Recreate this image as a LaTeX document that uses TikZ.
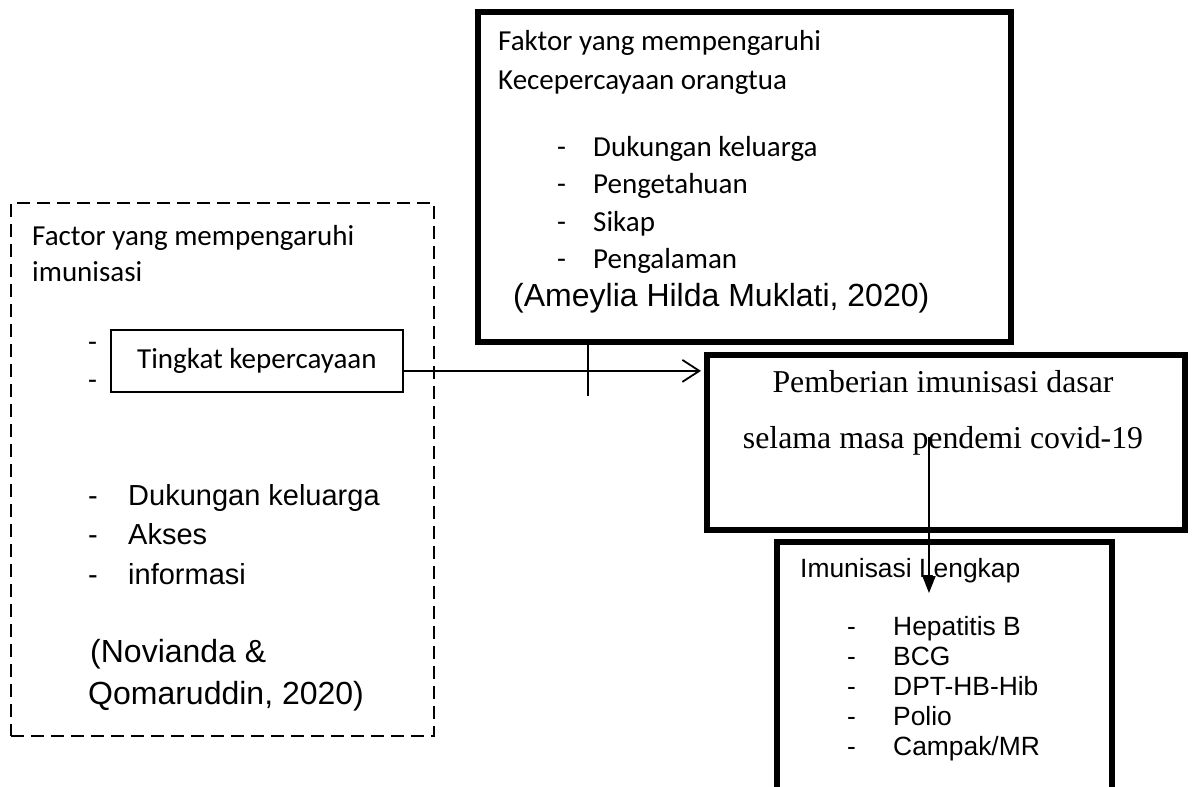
\documentclass[tikz,border=0pt]{standalone}
\usepackage{fontspec}
\setmainfont{Carlito}
\newfontfamily\arialf{Liberation Sans}
\newfontfamily\timesf{Liberation Serif}
\usetikzlibrary{arrows.meta, positioning, calc}
\tikzset{
  kt/.style = {draw=black, line width=6pt, inner sep=0pt, anchor=north west},
  kd/.style = {draw=black, line width=1.8pt, dash pattern=on 13pt off 7pt,
    inner sep=0pt, anchor=north west},
  kb/.style = {draw=black, line width=1.8pt, inner sep=0pt, anchor=north west,
    font=\fontsize{29}{35}\selectfont},
  tx/.style = {inner sep=0pt, anchor=base west, font=\fontsize{29}{35}\selectfont},
  ta/.style = {inner sep=0pt, anchor=base west, font=\arialf\fontsize{29}{39.5}\selectfont},
  tc/.style = {inner sep=0pt, anchor=base west, font=\arialf\fontsize{32}{42}\selectfont},
  ts/.style = {inner sep=0pt, anchor=base, font=\timesf\fontsize{31.8}{40}\selectfont},
  tl/.style = {inner sep=0pt, anchor=base west, font=\arialf\fontsize{26.4}{30}\selectfont},
  lp/.style = {draw=black, line width=1.8pt},
  seta/.style = {-{Straight Barb[length=17pt, width=22pt, line width=1.8pt]}, line width=1.8pt},
  setb/.style = {-{Triangle[length=17pt, width=13pt]}, line width=1.8pt}
}
\begin{document}
\begin{tikzpicture}[x=1pt, y=-1pt]
  \fill[white] (0,0) rectangle (1192,787);
  \useasboundingbox (0,0) rectangle (1192,787);
  % boxes
  \node [kd, minimum width=423pt, minimum height=533pt] (fim) at (10,202) {};
  \node [kb, minimum width=292pt, minimum height=62pt] (tingkat) at (110,329) {Tingkat kepercayaan};
  \node [kt, minimum width=533pt, minimum height=330pt] (kpo) at (475,9) {};
  \node [kt, minimum width=478pt, minimum height=175pt] (pemberian) at (704,352) {};
  \node [kt, minimum width=335pt, minimum height=250pt] (lengkap) at (774,539) {};
  % left box texts
  \node [tx] (fim1) at (32,245) {Factor yang mempengaruhi};
  \node [tx] (fim2) at (32,281) {imunisasi};
  \node [tx] (d1) at (88,351) {-};
  \node [tx] (d2) at (88,389) {-};
  \node [ta] (fimlist) at (88,505) {\begin{tabular}[t]{@{}p{40pt}@{}l@{}}
      - & Dukungan keluarga\\
      - & Akses\\
      - & informasi
    \end{tabular}};
  \node [tc] (nov1) at (90,662) {(Novianda \&};
  \node [tc] (nov2) at (88,704) {Qomaruddin, 2020)};
  % top box texts
  \node [tx] (kpo1) at (498,50) {Faktor yang mempengaruhi};
  \node [tx] (kpo2) at (498,89) {Kecepercayaan orangtua};
  \node [tx] (kpolist) at (557,156) {\fontsize{29}{37.5}\selectfont\begin{tabular}[t]{@{}p{36pt}@{}l@{}}
      - & Dukungan keluarga\\
      - & Pengetahuan\\
      - & Sikap\\
      - & Pengalaman
    \end{tabular}};
  \node [tc] (ame) at (513,306) {(Ameylia Hilda Muklati, 2020)};
  % middle box texts
  \node [ts] (pem1) at (943,392) {Pemberian imunisasi dasar};
  \node [ts] (pem2) at (943,448) {selama masa pendemi covid-19};
  % bottom box texts
  \node [tl] (len1) at (800,577) {Imunisasi Lengkap};
  \node [tl] (lenlist) at (847,635) {\begin{tabular}[t]{@{}p{46pt}@{}l@{}}
      - & Hepatitis B\\
      - & BCG\\
      - & DPT-HB-Hib\\
      - & Polio\\
      - & Campak/MR
    \end{tabular}};
  % connectors
  \coordinate (a0) at ($(tingkat.east)+(0,10)$);
  \coordinate (tk) at (588,396);
  \coordinate (v0) at (929,437);
  \coordinate (v1) at (929,593);
  \draw [seta] (a0) -- ($(a0 -| pemberian.west)+(-3,0)$);
  \draw [lp] (tk |- kpo.south) -- (tk);
  \draw [setb] (v0) -- (v1);
\end{tikzpicture}
\end{document}
